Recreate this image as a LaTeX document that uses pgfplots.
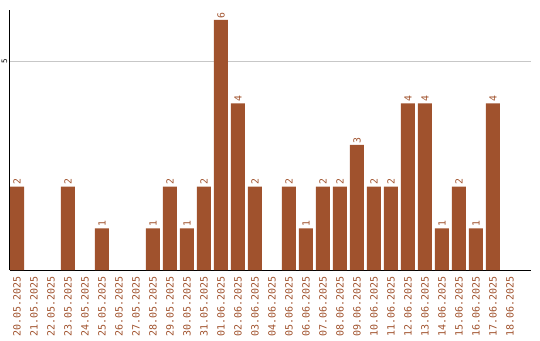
\documentclass[border=0pt]{standalone}
\usepackage{fontspec}
\setmainfont{DejaVu Sans Mono}
\usepackage{pgfplots}
\pgfplotsset{compat=1.18}
\definecolor{sienna}{RGB}{160,82,45}
\begin{document}
\begin{tikzpicture}
\begin{axis}[
  scale only axis, width=521pt, height=260pt,
  xmin=-0.412, xmax=30.24, ymin=0, ymax=6.24,
  axis x line=bottom, axis y line=left,
  axis line style={-, line width=1pt, black},
  clip=false,
  xtick={0,...,29},
  xticklabels={20.05.2025,21.05.2025,22.05.2025,23.05.2025,24.05.2025,25.05.2025,26.05.2025,27.05.2025,28.05.2025,29.05.2025,30.05.2025,31.05.2025,01.06.2025,02.06.2025,03.06.2025,04.06.2025,05.06.2025,06.06.2025,07.06.2025,08.06.2025,09.06.2025,10.06.2025,11.06.2025,12.06.2025,13.06.2025,14.06.2025,15.06.2025,16.06.2025,17.06.2025,18.06.2025},
  xticklabel style={rotate=90, anchor=east, inner xsep=6pt, inner ysep=0pt, font=\fontsize{10}{10}\selectfont, text=sienna},
  major tick length=0pt,
  ytick={5},
  yticklabel style={rotate=90, anchor=south, inner ysep=2.5pt, font=\fontsize{7.5}{8}\selectfont, text=black},
  ymajorgrids, grid style={line width=1pt, black!22},
  ybar, bar width=14pt,
  nodes near coords,
  nodes near coords style={rotate=90, anchor=west, inner xsep=1.5pt, font=\fontsize{9.8}{10}\selectfont, text=sienna},
  /pgf/number format/assume math mode=true,
]
\addplot[fill=sienna, draw=none] coordinates {
(0,2) (3,2) (5,1) (8,1) (9,2) (10,1) (11,2) (12,6) (13,4) (14,2)
(16,2) (17,1) (18,2) (19,2) (20,3) (21,2) (22,2) (23,4) (24,4) (25,1)
(26,2) (27,1) (28,4)
};
\end{axis}
\pgfresetboundingbox
\path[use as bounding box] (-10pt,-70pt) rectangle (530pt,270pt);
\end{tikzpicture}
\end{document}
